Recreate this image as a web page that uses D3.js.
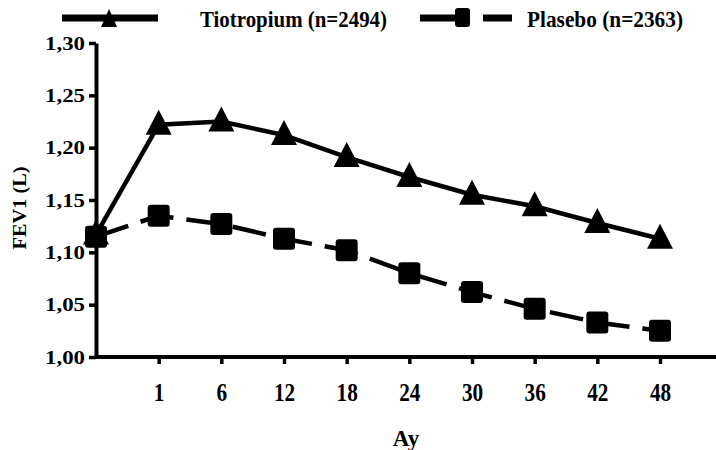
<html>
<head>
	<title>FEV1</title>
	<meta charset="utf-8">
	<script src="https://d3js.org/d3.v7.min.js"></script>
	<style>
		body { margin: 0; background: #fff; }
		text { font-family: "Liberation Serif", "Times New Roman", serif; font-weight: bold; fill: #000; }
	</style>
</head>
<body>
	<script type="text/javascript">
		var width = 716
		var height = 450
		var serif = "'Liberation Serif', 'Times New Roman', serif"

		// data
		var months = ["0", "1", "6", "12", "18", "24", "30", "36", "42", "48"]
		var tiotropium = [1.117, 1.222, 1.225, 1.212, 1.191, 1.172, 1.155, 1.144, 1.128, 1.113]
		var plasebo = [1.115, 1.135, 1.127, 1.113, 1.102, 1.080, 1.062, 1.046, 1.033, 1.025]
		var yTicks = [1.00, 1.05, 1.10, 1.15, 1.20, 1.25, 1.30]
		var legendLabels = ["Tiotropium (n=2494)", "Plasebo (n=2363)"]

		var svg = d3.select("body").append("svg")
			.attr("width", width)
			.attr("height", height)

		var x = d3.scalePoint().domain(months).range([96, 660])
		var y = d3.scaleLinear().domain([1.0, 1.3]).range([357, 43])

		// x axis
		var gx = svg.append("g")
			.attr("transform", "translate(0," + y(1.0) + ")")
			.call(d3.axisBottom(x).tickValues(months.slice(1)).tickSize(7).tickSizeOuter(0))
			.attr("font-family", serif)
		gx.select(".domain").attr("d", "M" + x("0") + ",0H" + width)
			.attr("stroke-width", 4)
		gx.selectAll(".tick line").attr("stroke-width", 3.5)
		gx.selectAll(".tick text")
			.attr("y", 44).attr("dy", null)
			.attr("font-size", 25)
			.attr("transform", "scale(0.85,1)")
			.attr("x", 0)

		// y axis
		var gy = svg.append("g")
			.attr("transform", "translate(" + x("0") + ",0)")
			.call(d3.axisLeft(y).tickValues(yTicks).tickSize(7).tickSizeOuter(0)
				.tickFormat(function(d) { return d.toFixed(2).replace(".", ",") }))
			.attr("font-family", serif)
		gy.select(".domain").attr("stroke-width", 4)
		gy.selectAll(".tick line").attr("stroke-width", 3.5)
		gy.selectAll(".tick text")
			.attr("x", -11)
			.attr("dy", 6)
			.attr("font-size", 19)
			.attr("textLength", 40)
			.attr("lengthAdjust", "spacingAndGlyphs")

		// axis titles
		svg.append("text")
			.attr("x", 406).attr("y", 446)
			.attr("text-anchor", "middle")
			.attr("font-size", 23)
			.text("Ay")

		svg.append("text")
			.attr("transform", "translate(26,208) rotate(-90)")
			.attr("text-anchor", "middle")
			.attr("font-size", 19)
			.attr("textLength", 83)
			.attr("lengthAdjust", "spacingAndGlyphs")
			.text("FEV1 (L)")

		var line = d3.line()
			.x(function(d, i) { return x(months[i]) })
			.y(function(d) { return y(d) })

		svg.append("path")
			.datum(plasebo)
			.attr("d", line)
			.attr("fill", "none")
			.attr("stroke", "#000")
			.attr("stroke-width", 4.5)
			.attr("stroke-dasharray", "34,13")

		svg.append("path")
			.datum(tiotropium)
			.attr("d", line)
			.attr("fill", "none")
			.attr("stroke", "#000")
			.attr("stroke-width", 4.5)

		var tri = "M0,-15L13,10L-13,10Z"

		svg.selectAll(".sq")
			.data(plasebo)
			.enter()
			.append("rect")
				.attr("class", "sq")
				.attr("x", function(d, i) { return x(months[i]) - 11 })
				.attr("y", function(d) { return y(d) - 11 })
				.attr("width", 22)
				.attr("height", 22)
				.attr("rx", 3)
				.attr("fill", "#000")

		svg.selectAll(".tri")
			.data(tiotropium)
			.enter()
			.append("path")
				.attr("class", "tri")
				.attr("d", tri)
				.attr("transform", function(d, i) { return "translate(" + x(months[i]) + "," + y(d) + ")" })
				.attr("fill", "#000")

		// legend
		var lg = svg.append("g")
		lg.append("line")
			.attr("x1", 62).attr("x2", 158).attr("y1", 18).attr("y2", 18)
			.attr("stroke", "#000").attr("stroke-width", 7)
		lg.append("path")
			.attr("d", "M0,-9L8,9L-8,9Z")
			.attr("transform", "translate(109,18)")
		lg.append("text")
			.attr("x", 200).attr("y", 27)
			.attr("font-size", 24)
			.attr("textLength", 187)
			.attr("lengthAdjust", "spacingAndGlyphs")
			.text(legendLabels[0])

		lg.append("line")
			.attr("x1", 420).attr("x2", 460).attr("y1", 18).attr("y2", 18)
			.attr("stroke", "#000").attr("stroke-width", 7)
		lg.append("line")
			.attr("x1", 483).attr("x2", 512).attr("y1", 18).attr("y2", 18)
			.attr("stroke", "#000").attr("stroke-width", 7)
		lg.append("rect")
			.attr("x", 455).attr("y", 8).attr("width", 15).attr("height", 19).attr("rx", 3)
		lg.append("text")
			.attr("x", 527).attr("y", 27)
			.attr("font-size", 24)
			.attr("textLength", 156)
			.attr("lengthAdjust", "spacingAndGlyphs")
			.text(legendLabels[1])
	</script>
</body>
</html>
